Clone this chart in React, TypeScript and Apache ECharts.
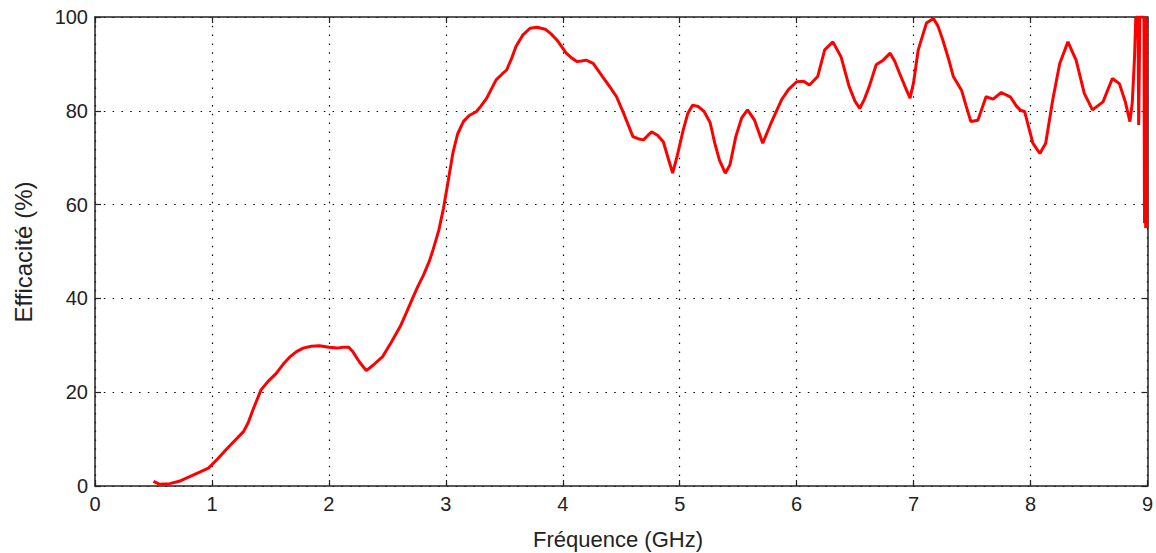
import React, { useEffect, useRef } from "react";
import * as echarts from "echarts";

const freqGHz: number[] = [
  0.5, 0.55, 0.64, 0.72, 0.81, 0.9, 0.97, 1.05, 1.13, 1.2, 1.27, 1.31, 1.35, 1.42, 1.48, 1.55, 1.61, 1.67, 1.72, 1.78,
  1.85, 1.92, 2.0, 2.07, 2.12, 2.17, 2.2, 2.26, 2.32, 2.38, 2.46, 2.53, 2.61, 2.66, 2.71, 2.76, 2.81, 2.86, 2.89, 2.94,
  2.98, 3.02, 3.06, 3.1, 3.15, 3.2, 3.26, 3.3, 3.35, 3.43, 3.48, 3.52, 3.56, 3.6, 3.66, 3.72, 3.78, 3.85, 3.9, 3.95,
  4.03, 4.08, 4.12, 4.16, 4.2, 4.26, 4.34, 4.4, 4.46, 4.52, 4.56, 4.6, 4.65, 4.69, 4.73, 4.76, 4.81, 4.86, 4.9, 4.94,
  4.98, 5.03, 5.07, 5.11, 5.16, 5.21, 5.26, 5.3, 5.34, 5.39, 5.43, 5.48, 5.53, 5.58, 5.64, 5.71, 5.78, 5.87, 5.93, 6.0,
  6.06, 6.11, 6.18, 6.24, 6.31, 6.38, 6.45, 6.5, 6.54, 6.58, 6.62, 6.68, 6.74, 6.8, 6.84, 6.88, 6.93, 6.97, 7.0, 7.04,
  7.11, 7.17, 7.21, 7.25, 7.3, 7.34, 7.41, 7.45, 7.49, 7.55, 7.62, 7.68, 7.75, 7.83, 7.88, 7.91, 7.95, 7.99, 8.02, 8.08,
  8.13, 8.19, 8.25, 8.32, 8.39, 8.46, 8.53, 8.62, 8.7, 8.76, 8.81, 8.85, 8.87, 8.89, 8.9, 8.91, 8.92, 8.925, 8.935, 8.95,
  8.96, 8.97, 8.975, 8.98, 8.985, 8.99, 8.995,
];

const efficiencyPct: number[] = [
  1.0, 0.4, 0.5, 1.0, 2.0, 3.0, 3.8, 5.8, 8.0, 9.8, 11.6, 13.5, 16.2, 20.5, 22.3, 24, 26, 27.6, 28.6, 29.4,
  29.8, 29.9, 29.6, 29.4, 29.6, 29.6, 28.8, 26.5, 24.6, 25.8, 27.6, 30.5, 34, 36.8, 39.7, 42.5, 45, 48, 50.3, 54.5,
  59.2, 65, 70.9, 75, 77.7, 79, 79.8, 81, 82.7, 86.6, 87.8, 88.7, 91, 93.7, 96.2, 97.6, 97.8, 97.4, 96.4, 95.1,
  92.3, 91.2, 90.5, 90.6, 90.8, 90.1, 87.3, 85.2, 83, 79.5, 77, 74.5, 74.0, 73.8, 74.8, 75.5, 74.8, 73.4, 70, 66.7,
  70.5, 75.9, 79.5, 81.2, 80.9, 79.8, 77.5, 73.1, 69.5, 66.7, 68.5, 74.5, 78.5, 80.2, 78, 73.1, 77.3, 82.3, 84.5, 86.2,
  86.3, 85.5, 87.3, 93, 94.7, 91.5, 85.1, 82, 80.5, 82.5, 85.1, 89.8, 90.8, 92.3, 90.5, 88, 85, 82.7, 86, 93,
  98.7, 99.7, 98, 95.1, 91, 87.3, 84.4, 81, 77.7, 78, 83, 82.5, 83.9, 82.9, 81, 80.2, 79.8, 76, 73.1, 70.9,
  73.1, 82.3, 90.1, 94.7, 90.8, 83.7, 80.2, 81.9, 86.9, 85.8, 82, 77.7, 81.6, 91.5, 99.7, 100, 100, 77, 100, 100,
  100, 100, 56, 100, 55, 100, 55,
];

const xTickMin = 0;
const xTickMax = 9;
const yTickMin = 0;
const yTickMax = 100;

const xLabel = "Fréquence (GHz)";
const yLabel = "Efficacité (%)";

export default function App() {
  const ref = useRef<HTMLDivElement>(null);

  useEffect(() => {
    if (!ref.current) return;
    const chart = echarts.init(ref.current, null, { renderer: "svg" });
    const axisColor = "#222";
    const font = "'Liberation Sans', Arial, sans-serif";
    const data = freqGHz.map((f, i) => [f, efficiencyPct[i]]);
    const gridLine = { show: true, lineStyle: { color: "#000", width: 1.2, type: [1.5, 7.3] } };
    const tickStyle = { show: true, inside: true, length: 6, lineStyle: { color: axisColor, width: 1.2 } };
    const lineStyle = { show: true, onZero: false, lineStyle: { color: axisColor, width: 1.5 } };
    chart.setOption({
      animation: false,
      backgroundColor: "#fff",
      grid: { left: 95, right: 8, top: 17, bottom: 67, containLabel: false },
      xAxis: [
        {
          type: "value",
          position: "bottom",
          min: xTickMin,
          max: xTickMax,
          interval: 1,
          axisLine: lineStyle,
          axisTick: tickStyle,
          splitLine: gridLine,
          axisLabel: { color: "#222", fontSize: 20, fontFamily: font, margin: 8 },
        },
        {
          type: "value",
          position: "top",
          min: xTickMin,
          max: xTickMax,
          interval: 1,
          axisLine: lineStyle,
          axisTick: tickStyle,
          splitLine: { show: false },
          axisLabel: { show: false },
        },
      ],
      yAxis: [
        {
          type: "value",
          position: "left",
          min: yTickMin,
          max: yTickMax,
          interval: 20,
          axisLine: lineStyle,
          axisTick: tickStyle,
          splitLine: gridLine,
          axisLabel: { color: "#222", fontSize: 20, fontFamily: font, margin: 7 },
        },
        {
          type: "value",
          position: "right",
          min: yTickMin,
          max: yTickMax,
          interval: 20,
          axisLine: lineStyle,
          axisTick: tickStyle,
          splitLine: { show: false },
          axisLabel: { show: false },
        },
      ],
      graphic: [
        {
          type: "text",
          x: 618,
          y: 539,
          style: {
            text: xLabel,
            fontSize: 22,
            fontFamily: font,
            fill: "#222",
            textAlign: "center",
            textVerticalAlign: "middle",
          },
        },
        {
          type: "text",
          x: 23,
          y: 252,
          rotation: Math.PI / 2,
          style: {
            text: yLabel,
            fontSize: 24,
            fontFamily: font,
            fill: "#222",
            textAlign: "center",
            textVerticalAlign: "middle",
          },
        },
      ],
      series: [
        {
          type: "line",
          data,
          xAxisIndex: 0,
          yAxisIndex: 0,
          showSymbol: false,
          symbol: "none",
          smooth: false,
          lineStyle: { color: "#ff0000", width: 3 },
          clip: true,
        },
      ],
    });
    return () => chart.dispose();
  }, []);

  return <div ref={ref} style={{ width: 1156, height: 553, position: "absolute", left: 0, top: 0 }} />;
}
